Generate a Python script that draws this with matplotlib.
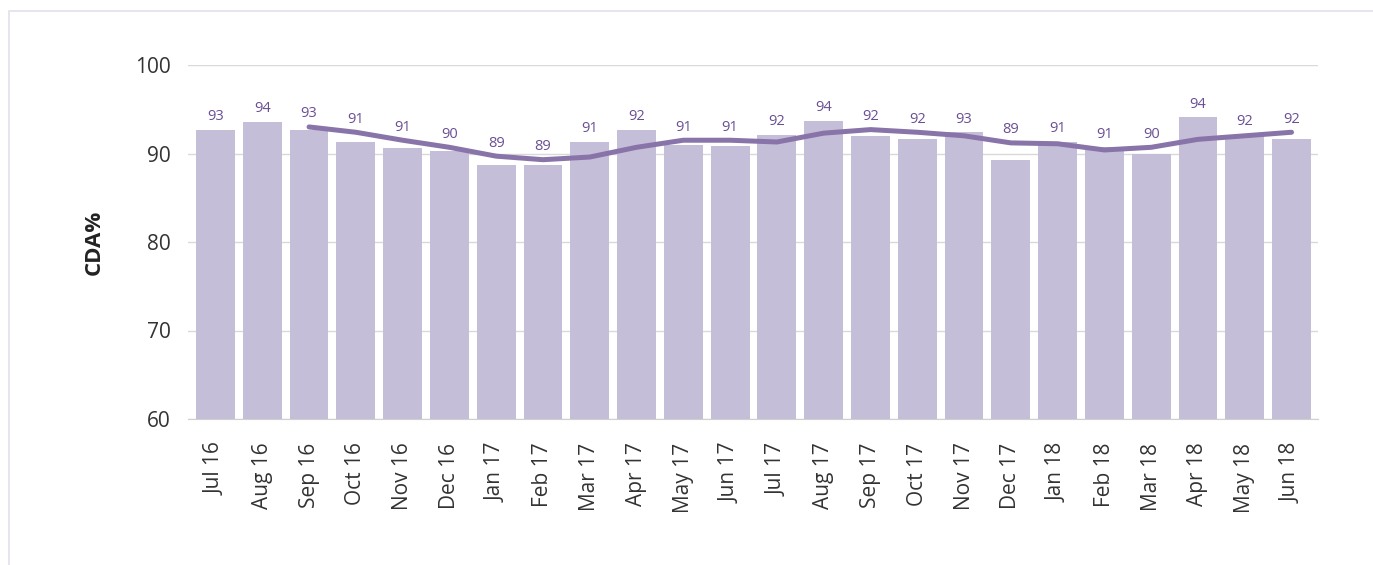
import matplotlib
matplotlib.use("Agg")
import matplotlib.pyplot as plt
from matplotlib.patches import Rectangle
import numpy as np

months = ["Jul 16", "Aug 16", "Sep 16", "Oct 16", "Nov 16", "Dec 16",
          "Jan 17", "Feb 17", "Mar 17", "Apr 17", "May 17", "Jun 17",
          "Jul 17", "Aug 17", "Sep 17", "Oct 17", "Nov 17", "Dec 17",
          "Jan 18", "Feb 18", "Mar 18", "Apr 18", "May 18", "Jun 18"]
cda = [92.7, 93.6, 92.7, 91.3, 90.6, 90.3, 88.7, 88.7, 91.3, 92.7, 91.0, 90.8,
       92.1, 93.7, 92.0, 91.6, 92.4, 89.3, 91.3, 90.7, 89.9, 94.1, 92.1, 91.6]
labels = ["93", "94", "93", "91", "91", "90", "89", "89", "91", "92", "91", "91",
          "92", "94", "92", "92", "93", "89", "91", "91", "90", "94", "92", "92"]
# rolling average line, starts at Sep 16
avg = [None, None, 93.0, 92.4, 91.5, 90.7, 89.7, 89.3, 89.6, 90.7, 91.5, 91.5,
       91.3, 92.3, 92.7, 92.4, 92.0, 91.2, 91.1, 90.4, 90.7, 91.6, 92.0, 92.4]

plt.rcParams['font.family'] = ['Open Sans', 'DejaVu Sans']

fig = plt.figure(figsize=(13.73, 5.65), dpi=100)
ax = fig.add_axes([187.7/1373, 1-419/565, (1318-187.7)/1373, (419-65)/565])

x = np.arange(len(months))
ax.bar(x, cda, width=0.83, color="#C5BED8", zorder=2, bottom=0)

ax_idx = [i for i, v in enumerate(avg) if v is not None]
ax_val = [avg[i] for i in ax_idx]
ax.plot(ax_idx, ax_val, color="#8874A9", lw=3.6, solid_capstyle="round",
        solid_joinstyle="round", zorder=3)

for i, (v, lab) in enumerate(zip(cda, labels)):
    top = v if avg[i] is None else max(v, avg[i])
    ax.annotate(lab, (i, top), xytext=(0, 4), textcoords="offset points",
                ha="center", va="bottom", fontsize=10.5, color="#6A4F93", zorder=4)

ax.set_ylim(60, 100)
ax.set_xlim(-0.594, 23.566)
ax.set_yticks([60, 70, 80, 90, 100])
ax.yaxis.grid(True, color="#D9D9D9", lw=1, zorder=0)
ax.set_axisbelow(True)
for s in ["top", "right", "left"]:
    ax.spines[s].set_visible(False)
ax.spines["bottom"].set_color("#D0D0D0")
ax.tick_params(axis="both", length=0, colors="#333333")
ax.tick_params(axis="y", labelsize=15, pad=12)
ax.set_xticks(x)
ax.set_xticklabels(months, rotation=90, fontsize=15)
ax.tick_params(axis="x", pad=17)
ax.set_ylabel("CDA%", fontsize=16, fontweight="bold", color="#222222", labelpad=22)

fig.patches.append(Rectangle((9/1373, -0.1), 1.2, 1 - 11/565 + 0.1,
                             transform=fig.transFigure, fill=False,
                             edgecolor="#E2E0EC", lw=1.2))

fig.savefig("out.png", dpi=100)
